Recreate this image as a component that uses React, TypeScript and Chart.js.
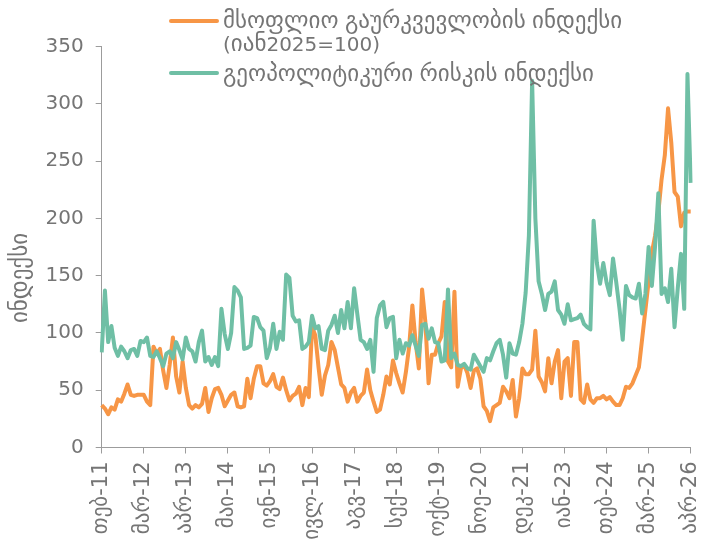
import React, { useEffect, useRef } from 'react';
import { Chart, registerables } from 'chart.js';

Chart.register(...registerables);

// Georgian month abbreviations, series starts Feb 2011, monthly
const monthNames = ['იან', 'თებ', 'მარ', 'აპრ', 'მაი', 'ივნ', 'ივლ', 'აგვ', 'სექ', 'ოქტ', 'ნოე', 'დეკ'];
const startYear = 2011;
const startMonthIndex = 1;
const labelEvery = 13;

const seriesNames = [
  ['მსოფლიო გაურკვევლობის ინდექსი', '(იან2025=100)'],
  ['გეოპოლიტიკური რისკის ინდექსი'],
];
const yAxisTitle = 'ინდექსი';
const yMin = 0;
const yMax = 350;
const yStep = 50;

// World uncertainty index (Jan2025 = 100)
const uncertainty = [
  37, 34, 29, 35, 33, 42, 40, 47, 55, 46,
  45, 46, 46, 46, 40, 37, 88, 82, 86, 67,
  52, 72, 96, 62, 48, 75, 52, 37, 34, 37,
  35, 38, 52, 31, 43, 51, 52, 46, 36, 41,
  46, 48, 36, 35, 36, 60, 43, 60, 71, 71,
  56, 54, 58, 64, 53, 51, 61, 50, 41, 45,
  47, 53, 37, 52, 44, 105, 98, 70, 46, 63,
  72, 92, 85, 70, 55, 52, 40, 48, 52, 40,
  45, 48, 68, 50, 40, 31, 33, 46, 62, 55,
  76, 65, 56, 48, 66, 88, 124, 92, 69, 138,
  110, 56, 81, 81, 91, 97, 127, 75, 70, 136,
  53, 69, 72, 65, 52, 67, 69, 60, 36, 32,
  23, 35, 37, 39, 53, 49, 43, 59, 27, 43,
  69, 64, 64, 68, 102, 62, 57, 49, 78, 56,
  75, 85, 43, 75, 78, 45, 92, 92, 42, 39,
  55, 42, 39, 43, 43, 45, 42, 44, 40, 37,
  37, 43, 53, 52, 56, 63, 70, 95, 120, 145,
  170, 185, 205, 234, 255, 296, 266, 223, 219, 193,
  205, 206, 206,
];

// Geopolitical risk index
const geoRisk = [
  83, 137, 92, 106, 87, 80, 88, 84, 78, 85,
  86, 80, 93, 92, 96, 80, 79, 84, 78, 71,
  82, 84, 78, 92, 85, 77, 96, 86, 84, 75,
  92, 102, 75, 79, 72, 79, 71, 121, 99, 86,
  100, 140, 137, 131, 86, 87, 89, 114, 113, 105,
  102, 78, 87, 108, 86, 101, 94, 151, 148, 115,
  110, 111, 86, 88, 92, 115, 104, 106, 86, 85,
  102, 107, 115, 100, 120, 104, 127, 104, 139, 116,
  94, 92, 86, 94, 66, 113, 124, 127, 105, 113,
  114, 78, 94, 82, 91, 89, 98, 89, 80, 107,
  108, 95, 104, 92, 91, 75, 76, 138, 78, 82,
  72, 71, 73, 69, 68, 81, 76, 71, 66, 78,
  76, 84, 91, 94, 81, 61, 91, 82, 81, 92,
  108, 135, 185, 320, 200, 145, 134, 120, 134, 136,
  145, 120, 116, 108, 125, 111, 112, 113, 116, 108,
  105, 103, 198, 161, 143, 161, 144, 133, 165, 144,
  121, 94, 141, 133, 131, 130, 143, 117, 134, 175,
  141, 176, 222, 134, 139, 127, 156, 105, 139, 169,
  121, 326, 231,
];

const categories = uncertainty.map((_, i) => {
  const k = startMonthIndex + i;
  const m = k % 12;
  const y = startYear + Math.floor(k / 12);
  return monthNames[m] + '-' + String(y).slice(2);
});

const ORANGE = '#F79646';
const GREEN = '#6FBFA5';
const TEXT = '#757575';
const AXIS = '#9c9c9c';
const FONT = "'DejaVu Sans', sans-serif";
const GEO_SIZE = 23;
const LATIN_SIZE = 20;

type Run = { t: string; g: boolean; w: number };

function splitRuns(text: string): Run[] {
  const runs: Run[] = [];
  const re = /[\u10A0-\u10FF]+/g;
  let last = 0;
  let m: RegExpExecArray | null;
  while ((m = re.exec(text)) !== null) {
    if (m.index > last) runs.push({ t: text.slice(last, m.index), g: false, w: 0 });
    runs.push({ t: m[0], g: true, w: 0 });
    last = m.index + m[0].length;
  }
  if (last < text.length) runs.push({ t: text.slice(last), g: false, w: 0 });
  return runs;
}

function drawMixed(ctx: CanvasRenderingContext2D, text: string, x: number, y: number, align: 'left' | 'center') {
  const runs = splitRuns(text);
  const fontFor = (g: boolean) => `${g ? GEO_SIZE : LATIN_SIZE}px ${FONT}`;
  let total = 0;
  runs.forEach((r) => {
    ctx.font = fontFor(r.g);
    r.w = ctx.measureText(r.t).width;
    total += r.w;
  });
  let cx = align === 'center' ? x - total / 2 : x;
  ctx.textAlign = 'left';
  runs.forEach((r) => {
    ctx.font = fontFor(r.g);
    ctx.fillText(r.t, cx, y);
    cx += r.w;
  });
}

const overlayPlugin = {
  id: 'overlayText',
  afterDraw(chart: any) {
    const ctx = chart.ctx as CanvasRenderingContext2D;
    ctx.save();
    ctx.fillStyle = TEXT;
    ctx.textBaseline = 'alphabetic';

    // y axis title
    ctx.save();
    ctx.translate(21, 278);
    ctx.rotate(-Math.PI / 2);
    drawMixed(ctx, yAxisTitle, 0, 6, 'center');
    ctx.restore();

    // legend
    const colors = [ORANGE, GREEN];
    const lineY = [21, 73];
    const baseY = [28, 81];
    seriesNames.forEach((lines, i) => {
      ctx.strokeStyle = colors[i];
      ctx.lineWidth = 4;
      ctx.lineCap = 'round';
      ctx.beginPath();
      ctx.moveTo(171, lineY[i]);
      ctx.lineTo(217, lineY[i]);
      ctx.stroke();
      lines.forEach((t, j) => {
        drawMixed(ctx, t, 223, baseY[i] + j * 23, 'left');
      });
    });
    ctx.restore();
  },
};

export default function App() {
  const canvasRef = useRef<HTMLCanvasElement | null>(null);

  useEffect(() => {
    document.body.style.margin = '0';
    const canvas = canvasRef.current;
    if (!canvas) return;
    const chart = new Chart(canvas, {
      type: 'line',
      data: {
        labels: categories,
        datasets: [
          {
            label: seriesNames[0].join(' '),
            data: uncertainty,
            borderColor: ORANGE,
            backgroundColor: ORANGE,
            borderWidth: 4,
            pointRadius: 0,
            tension: 0,
            borderJoinStyle: 'round',
            order: 1,
          },
          {
            label: seriesNames[1].join(' '),
            data: geoRisk,
            borderColor: GREEN,
            backgroundColor: GREEN,
            borderWidth: 4,
            pointRadius: 0,
            tension: 0,
            borderJoinStyle: 'round',
            order: 0,
          },
        ],
      },
      options: {
        responsive: false,
        animation: false,
        devicePixelRatio: 1,
        layout: { padding: { top: 46.5, right: 12.3, bottom: 0, left: 0 } },
        plugins: {
          legend: { display: false },
          tooltip: { enabled: false },
        },
        scales: {
          x: {
            type: 'category',
            offset: false,
            grid: {
              display: true,
              drawOnChartArea: false,
              drawTicks: true,
              tickLength: 6,
              color: AXIS,
            },
            border: { display: true, color: AXIS, width: 1 },
            ticks: {
              autoSkip: false,
              maxRotation: 90,
              minRotation: 90,
              padding: 8,
              color: TEXT,
              font: { family: FONT, size: 21 },
              callback: (_v: any, index: number) =>
                index % labelEvery === 0 ? categories[index] : null,
            },
            afterFit: (scale: any) => {
              scale.height = 93.5;
              scale.paddingLeft = 0;
              scale.paddingRight = 0;
            },
          },
          y: {
            min: yMin,
            max: yMax,
            grid: {
              display: true,
              drawOnChartArea: false,
              drawTicks: true,
              tickLength: 6,
              color: AXIS,
            },
            border: { display: true, color: AXIS, width: 1 },
            ticks: {
              stepSize: yStep,
              padding: 12,
              color: TEXT,
              font: { family: FONT, size: 20 },
            },
            afterFit: (scale: any) => {
              scale.width = 101.7;
              scale.paddingTop = 0;
              scale.paddingBottom = 0;
            },
          },
        },
      },
      plugins: [overlayPlugin],
    });
    return () => chart.destroy();
  }, []);

  return (
    <div style={{ width: 703, height: 541 }}>
      <canvas ref={canvasRef} width={703} height={541} />
    </div>
  );
}
